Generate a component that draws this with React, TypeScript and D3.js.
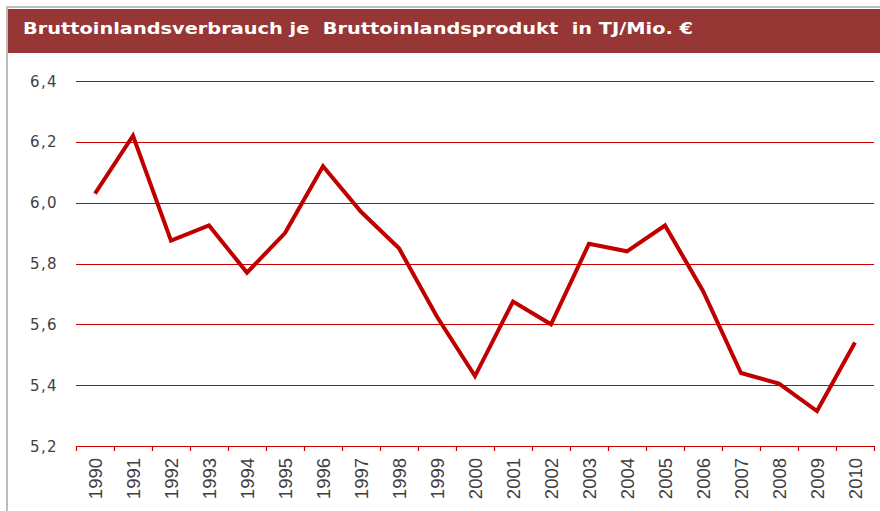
import React, { useEffect, useRef } from 'react';
import * as d3 from 'd3';

const years = [
  '1990', '1991', '1992', '1993', '1994', '1995', '1996', '1997', '1998', '1999', '2000',
  '2001', '2002', '2003', '2004', '2005', '2006', '2007', '2008', '2009', '2010',
];
const values = [
  6.03, 6.22, 5.875, 5.925, 5.77, 5.9, 6.12, 5.97, 5.85, 5.625, 5.43,
  5.675, 5.6, 5.865, 5.84, 5.925, 5.71, 5.44, 5.405, 5.315, 5.54,
];
const yTicks = [5.2, 5.4, 5.6, 5.8, 6.0, 6.2, 6.4];
const title = 'Bruttoinlandsverbrauch je  Bruttoinlandsprodukt  in TJ/Mio. €';

const App: React.FC = () => {
  const svgRef = useRef<SVGSVGElement>(null);

  useEffect(() => {
    if (!svgRef.current) return;
    const svg = d3.select(svgRef.current);
    svg.selectAll('*').remove();

    const W = 880;
    const H = 511;
    const plot = { left: 76, right: 874, top: 81, bottom: 446 };

    // frame + title bar
    svg.append('rect').attr('width', W).attr('height', H).attr('fill', '#fff');
    svg.append('line').attr('x1', 6.5).attr('x2', W).attr('y1', 7).attr('y2', 7)
      .attr('stroke', '#bdbdbd').attr('stroke-width', 2);
    svg.append('line').attr('x1', 7).attr('x2', 7).attr('y1', 6).attr('y2', H)
      .attr('stroke', '#bdbdbd').attr('stroke-width', 2);
    svg.append('rect').attr('x', 8).attr('y', 9).attr('width', W - 8).attr('height', 44)
      .attr('fill', '#963735');
    svg.append('text')
      .attr('x', 23).attr('y', 34)
      .attr('fill', '#fff')
      .attr('font-family', 'DejaVu Sans, Verdana, sans-serif')
      .attr('font-weight', 'bold')
      .attr('font-size', 16)
      .attr('textLength', 670)
      .attr('lengthAdjust', 'spacingAndGlyphs')
      .style('white-space', 'pre')
      .text(title);

    const x = d3.scaleBand().domain(years).range([plot.left, plot.right]);
    const y = d3.scaleLinear().domain([5.2, 6.4]).range([plot.bottom, plot.top]);

    // gridlines
    svg.append('g').selectAll('line').data(yTicks).join('line')
      .attr('x1', plot.left).attr('x2', plot.right)
      .attr('y1', d => Math.round(y(d)) + 0.5).attr('y2', d => Math.round(y(d)) + 0.5)
      .attr('stroke', '#cc0000').attr('stroke-width', 1.2);

    // y labels
    svg.append('g').selectAll('text').data(yTicks).join('text')
      .attr('x', 58).attr('y', d => y(d) + 5.5)
      .attr('text-anchor', 'end')
      .attr('fill', '#404040')
      .attr('font-family', 'DejaVu Sans, Verdana, sans-serif')
      .attr('font-size', 15)
      .attr('letter-spacing', 1.4)
      .text(d => d3.format('.1f')(d).replace('.', ','));

    // x ticks at band edges
    const edges = years.map(d => x(d) || 0).concat([plot.right]);
    svg.append('g').selectAll('line').data(edges).join('line')
      .attr('x1', d => Math.round(d) + 0.5).attr('x2', d => Math.round(d) + 0.5)
      .attr('y1', plot.bottom).attr('y2', plot.bottom + 5)
      .attr('stroke', '#cc0000').attr('stroke-width', 1.2);

    // x labels rotated
    svg.append('g').selectAll('text').data(years).join('text')
      .attr('transform', d => `translate(${(x(d) || 0) + x.bandwidth() / 2 + 6.5},${plot.bottom + 12}) rotate(-90)`)
      .attr('text-anchor', 'end')
      .attr('fill', '#404040')
      .attr('font-family', 'Liberation Sans, Arial, sans-serif')
      .attr('font-size', 18.5)
      .text(d => d);

    // line
    const line = d3.line<number>()
      .x((_, i) => (x(years[i]) || 0) + x.bandwidth() / 2)
      .y(d => y(d));
    svg.append('path').datum(values)
      .attr('d', line)
      .attr('fill', 'none')
      .attr('stroke', '#c00000')
      .attr('stroke-width', 4)
      .attr('stroke-linejoin', 'miter');
  }, []);

  return (
    <svg
      ref={svgRef}
      width={880}
      height={511}
      style={{ position: 'absolute', left: 0, top: 0 }}
    />
  );
};

export default App;
